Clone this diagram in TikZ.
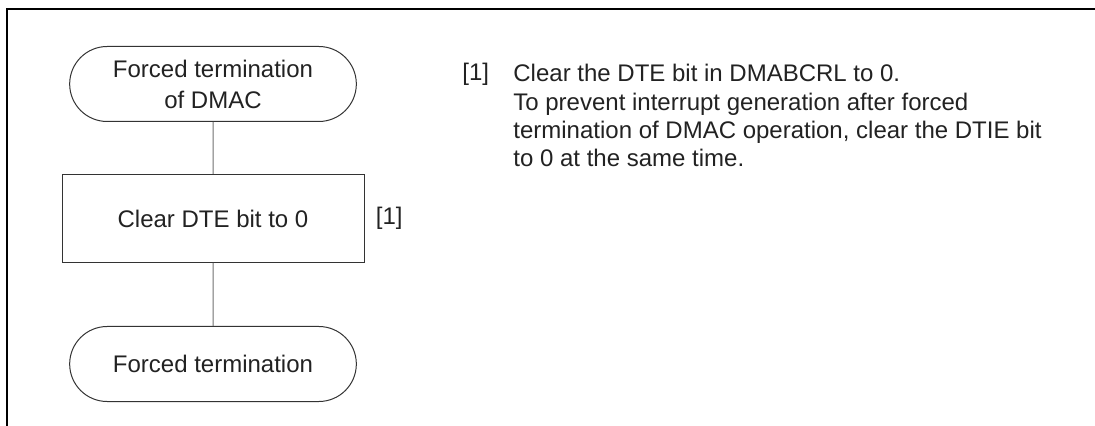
\documentclass[tikz,border=0pt]{standalone}
\usepackage{fontspec}
\setmainfont{Liberation Sans}
\usetikzlibrary{positioning,shapes.misc}
\definecolor{flowline}{HTML}{333333}
\definecolor{linkline}{HTML}{707070}
\definecolor{flowtext}{HTML}{222222}

\begin{document}
\begin{tikzpicture}[x=0.5pt,y=-0.5pt,
  terminal/.style={draw=flowline,line width=0.5pt,rounded rectangle,minimum width=150pt,minimum height=37.5pt,
    align=center,text=flowtext,font=\fontsize{12}{15.5}\selectfont},
  process/.style={draw=flowline,line width=0.5pt,rectangle,minimum width=151pt,minimum height=44pt,
    text=flowtext,font=\fontsize{12}{14}\selectfont},
  note/.style={inner sep=0pt,align=left,text=flowtext,font=\fontsize{12}{14.2}\selectfont}]
  \useasboundingbox (0,0) rectangle (1095,426);

  % frame
  \draw[line width=1pt] (7,426) -- (7,9) -- (1095,9);

  % flow
  \node[terminal] (start) at (213,84) {Forced termination\\of DMAC};
  \node[process,below=26pt of start] (clear) {Clear DTE bit to 0};
  \node[terminal,below=31.5pt of clear] (stop) {Forced termination};
  \node[note,right=5.5pt of clear] (step1) {[1]};

  \draw[linkline,line width=0.5pt] (start) -- (clear);
  \draw[linkline,line width=0.5pt] (clear) -- (stop);

  % description
  \node[note,anchor=base west] (num1) at (462,81) {[1]};
  \node[note,anchor=north west] (desc1) at (513,64) {Clear the DTE bit in DMABCRL to 0.\\
    To prevent interrupt generation after forced\\
    termination of DMAC operation, clear the DTIE bit\\
    to 0 at the same time.};
\end{tikzpicture}
\end{document}
